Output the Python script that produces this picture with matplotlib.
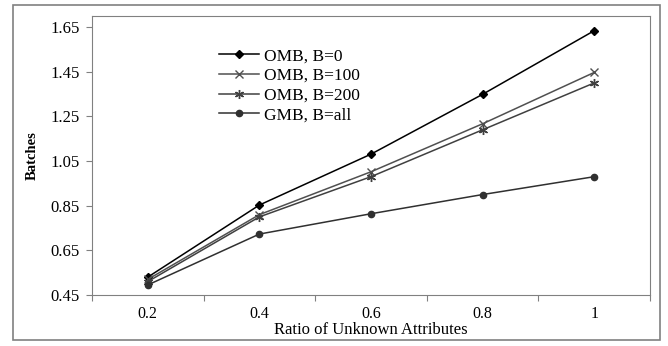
import matplotlib
matplotlib.use('Agg')
import matplotlib.pyplot as plt
from matplotlib.patches import Rectangle

plt.rcParams['font.family'] = ['Liberation Serif', 'DejaVu Serif']

ratios = ['0.2', '0.4', '0.6', '0.8', '1']
omb_b0 = [0.53, 0.853, 1.081, 1.349, 1.634]
omb_b100 = [0.52, 0.81, 1.002, 1.217, 1.447]
omb_b200 = [0.51, 0.80, 0.98, 1.19, 1.40]
gmb_all = [0.495, 0.723, 0.814, 0.90, 0.98]

fig = plt.figure(figsize=(6.68, 3.46), dpi=100)
# outer frame
fig.patches.append(Rectangle((0.0195, 0.0173), 0.9685, 0.9682, transform=fig.transFigure,
                             fill=False, edgecolor='#808080', linewidth=1.2))
ax = fig.add_axes([0.1377, 0.1474, 0.8353, 0.8064])

x = range(len(ratios))
ax.plot(x, omb_b0, color='black', marker='D', markersize=4, linewidth=1.1, label='OMB, B=0')
ax.plot(x, omb_b100, color='#505050', marker='x', markersize=6, markeredgewidth=1.0,
        linewidth=1.1, label='OMB, B=100')
ax.plot(x, omb_b200, color='#404040', marker=(6, 2, 0), markersize=6.5, markeredgewidth=1.0,
        linewidth=1.1, label='OMB, B=200')
ax.plot(x, gmb_all, color='#303030', marker='o', markersize=4.5, linewidth=1.1, label='GMB, B=all')

ax.set_xlim(-0.5, len(ratios) - 0.5)
ax.set_ylim(0.45, 1.70)
ax.set_yticks([0.45, 0.65, 0.85, 1.05, 1.25, 1.45, 1.65])
ax.set_yticklabels(['0.45', '0.65', '0.85', '1.05', '1.25', '1.45', '1.65'])
ax.set_xticks([i - 0.5 for i in range(len(ratios) + 1)])
ax.set_xticklabels([])
ax.set_xticks(list(x), minor=True)
ax.set_xticklabels(ratios, minor=True)
ax.tick_params(axis='x', which='minor', length=0, pad=8, labelsize=11.5)
ax.tick_params(axis='x', which='major', length=4, direction='out', color='#808080')
ax.tick_params(axis='y', length=4, direction='out', labelsize=12, color='#808080', pad=5)
for s in ax.spines.values():
    s.set_color('#808080')

ax.set_xlabel('Ratio of Unknown Attributes', fontsize=12)
ax.xaxis.set_label_coords(0.5, -0.098)
ax.set_ylabel('Batches', fontsize=10.5, fontweight='bold', labelpad=8)

ax.legend(loc='upper left', bbox_to_anchor=(0.2, 0.94), frameon=False, fontsize=12.5,
          handlelength=2.3, labelspacing=0.2, handletextpad=0.3)

fig.savefig('out.png', dpi=100)
